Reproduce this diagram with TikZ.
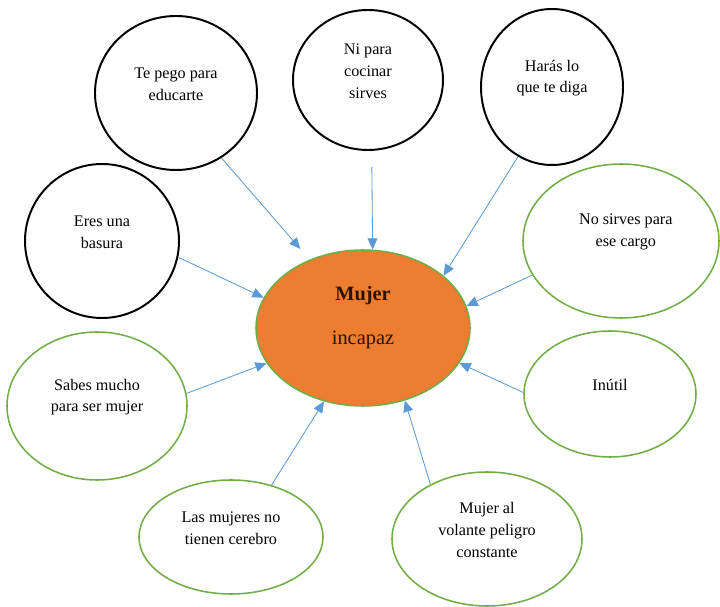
\documentclass[tikz,border=0pt]{standalone}
\usepackage{fontspec}
\setmainfont{Liberation Serif}
\usetikzlibrary{shapes.geometric, arrows.meta}
\definecolor{wordorange}{HTML}{ED7D31}
\definecolor{wordgreen}{HTML}{70AD47}
\definecolor{wordblue}{HTML}{5B9BD5}
\definecolor{darkbrown}{HTML}{2B1300}

\tikzset{
  bubble/.style={ellipse, draw, inner sep=0pt, line width=1.4pt},
  blackbubble/.style={bubble, draw=black},
  greenbubble/.style={bubble, draw=wordgreen, line width=1.1pt},
  txt/.style={align=center, font=\fontsize{11.5}{15.5}\selectfont, text=black, yshift=0.22cm},
  link/.style={draw=wordblue, line width=0.6pt, -{Triangle[length=8pt,width=7pt]}}
}

\begin{document}
\begin{tikzpicture}

\useasboundingbox (0,0) rectangle (18,15.175);

\node[ellipse, minimum width=5.35cm, minimum height=3.9cm, draw=wordgreen, line width=1.1pt, fill=wordorange] (m) at (9.075,6.975) {};
\node[align=center, text=darkbrown, font=\fontsize{14.5}{17}\selectfont, yshift=0.25cm] at (m.center) {\textbf{Mujer}\\[0.5cm] incapaz};

\node[blackbubble, minimum width=4.05cm, minimum height=3.85cm, label={[txt]center:Te pego para\\educarte}] (a) at (4.4,12.85) {};
\node[blackbubble, minimum width=3.85cm, minimum height=3.85cm, label={[txt]center:Eres una\\basura}] (b) at (2.55,9.15) {};
\node[blackbubble, minimum width=3.75cm, minimum height=3.5cm, label={[txt]center:Ni para\\cocinar\\sirves}] (c) at (9.2,13.175) {};
\node[blackbubble, minimum width=3.55cm, minimum height=3.9cm, label={[txt]center:Harás lo\\que te diga}] (d) at (13.8,13.0) {};

\node[greenbubble, minimum width=4.9cm, minimum height=3.85cm, label={[txt, xshift=0.12cm]center:No sirves para\\ese cargo}] (e) at (15.525,9.15) {};
\node[greenbubble, minimum width=4.3cm, minimum height=3.15cm, label={[txt]center:Inútil}] (f) at (15.25,5.325) {};
\node[greenbubble, minimum width=4.75cm, minimum height=3.35cm, label={[txt]center:Mujer al\\volante peligro\\constante}] (g) at (12.175,1.7) {};
\node[greenbubble, minimum width=4.6cm, minimum height=2.85cm, label={[txt]center:Las mujeres no\\tienen cerebro}] (h) at (5.775,1.75) {};
\node[greenbubble, minimum width=4.5cm, minimum height=3.7cm, label={[txt]center:Sabes mucho\\para ser mujer}] (i) at (2.425,5.025) {};

\draw[link, shorten >=0.35cm] (a.-55) -- (m.128);
\draw[link] (b.-12) -- (m.163);
\draw[link, shorten <=0.4cm] (c.-87) -- (m.83);
\draw[link] (d.-116) -- (m.33.5);
\draw[link] (e.-159) -- (m.12.7);
\draw[link] (f.179) -- (m.-20);
\draw[link] (g.136) -- (m.-60);
\draw[link] (h.52) -- (m.-118);
\draw[link] (i.8) -- (m.-160);

\end{tikzpicture}
\end{document}
